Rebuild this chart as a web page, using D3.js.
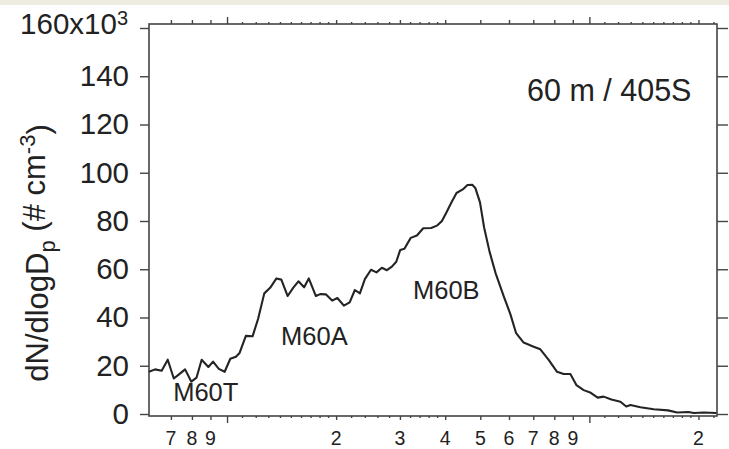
<!DOCTYPE html>
<html>
<head>
<meta charset="utf-8">
<script src="https://cdn.jsdelivr.net/npm/d3@7"></script>
<style>
  body { margin: 0; background: #fff; }
  svg { display: block; }
  text { font-family: "Liberation Sans", Arial, Helvetica, sans-serif; fill: #222; }
</style>
</head>
<body>
<svg id="chart" width="729" height="449"></svg>
<script>
// Particle number size distribution, 60 m / 405S
const diameter = [6.09,6.33,6.60,6.86,7.13,7.34,7.66,7.97,8.24,8.51,
  8.88,9.15,9.49,9.85,10.21,10.58,10.83,11.27,11.76,12.18,
  12.67,13.15,13.69,14.12,14.70,15.22,15.74,16.32,16.81,17.59,
  18.07,18.73,19.50,20.16,21.01,21.80,22.53,23.26,24.01,24.96,
  25.85,26.75,27.62,28.51,29.31,30.06,30.87,32.13,33.42,34.79,
  36.61,38.08,39.18,40.21,41.64,42.98,44.72,46.07,47.51,48.43,
  49.90,51.22,53.02,55.12,58.00,60.52,62.78,65.84,70.18,73.22,
  77.20,81.42,84.92,88.61,92.07,96.45,100.9,105.4,109.5,115.0,
  121.8,126.4,129.8,138.3,150.5,164.8,174.7,187.7,194.2,206.9,224.3];
// dN/dlogDp in units of 10^3 cm^-3
const concentration = [17.5,18.5,17.9,22.5,14.7,16.2,18.5,13.4,15.1,22.5,
  19.5,21.7,18.7,17.5,22.9,23.7,25.3,32.4,32.2,39.4,
  50.0,52.3,56.2,55.7,48.9,52.3,55.0,52.5,56.2,48.9,
  49.7,49.6,47.0,48.1,44.9,46.3,51.4,50.0,55.9,59.8,
  58.7,60.6,59.6,61.1,63.1,68.0,68.5,73.0,74.0,77.0,
  77.1,78.2,80.0,83.2,87.8,91.6,93.1,94.9,95.0,93.7,
  87.7,77.3,67.3,58.3,48.9,41.4,33.5,29.6,27.9,26.8,
  22.4,17.5,16.6,16.6,12.0,9.9,8.8,6.8,7.2,6.0,
  5.1,3.1,3.7,2.8,2.0,1.5,0.6,0.8,0.4,0.6,0.4];

// Log axis ticks
const labeledTicks = [7, 8, 9, 20, 30, 40, 50, 60, 70, 80, 90, 200];
const labeledTickText = ["7", "8", "9", "2", "3", "4", "5", "6", "7", "8", "9", "2"];
const decadeTicks = [10, 100];
const minorTicks = [11, 12, 13, 14, 15, 16, 17, 18, 19, 22, 24, 26, 28, 32, 34, 36, 38,
  110, 120, 130, 140, 150, 160, 170, 180, 190, 220];

const yTicks = [0, 20, 40, 60, 80, 100, 120, 140, 160];
const yTickText = ["0", "20", "40", "60", "80", "100", "120", "140", "160x10"];

const modeLabels = ["M60T", "M60A", "M60B"];
const modeLabelAt = [[7.1, 5.5], [14.1, 28.5], [32.6, 47.7]];
const panelTitle = "60 m / 405S";

const svg = d3.select("#chart");
const W = 729, H = 449;
const left = 149, right = 717, frameTop = 24, frameBottom = 416;

// Paper-coloured strip along the top edge
svg.append("rect").attr("x", 0).attr("y", 0).attr("width", W).attr("height", 5).attr("fill", "#eeebe0");

const x = d3.scaleLog().domain([6.09, 225]).range([left, right]);
const y = d3.scaleLinear().domain([0, 160]).range([414, 28]);

const axisColor = "#444";

function tickAxis(axisFn, values, size, pos, horizontal) {
  const g = svg.append("g")
    .attr("transform", horizontal ? `translate(0,${pos})` : `translate(${pos},0)`)
    .call(axisFn.tickValues(values).tickSize(size).tickFormat(""));
  g.select(".domain").remove();
  g.selectAll(".tick line").attr("stroke", axisColor).attr("stroke-width", 1.4);
  return g;
}

// Bottom and top log axes
tickAxis(d3.axisBottom(x), decadeTicks, 7, frameBottom, true);
tickAxis(d3.axisBottom(x), labeledTicks, 4, frameBottom, true);
tickAxis(d3.axisBottom(x), minorTicks, 2, frameBottom, true);
tickAxis(d3.axisTop(x), decadeTicks, 7, frameTop, true);
tickAxis(d3.axisTop(x), labeledTicks, 4, frameTop, true);
tickAxis(d3.axisTop(x), minorTicks, 2, frameTop, true);

// Bottom tick labels
svg.append("g").selectAll("text").data(labeledTicks).join("text")
  .attr("x", d => x(d)).attr("y", 445)
  .attr("text-anchor", "middle").attr("font-size", 19.5)
  .text((d, i) => labeledTickText[i]);

// Left and right linear axes
const yl = svg.append("g").attr("transform", `translate(${left},0)`)
  .call(d3.axisLeft(y).tickValues(yTicks).tickSize(9).tickPadding(11)
    .tickFormat((d, i) => yTickText[i]));
yl.select(".domain").remove();
yl.selectAll(".tick line").attr("stroke", axisColor).attr("stroke-width", 1.4);
yl.selectAll(".tick text").attr("font-size", 29.5).attr("font-family", null).attr("fill", "#222");
const topLabel = yl.selectAll(".tick text").filter(d => d === 160);
topLabel.attr("dy", "0.18em").attr("x", -21);
topLabel.append("tspan").attr("dy", "-0.45em").attr("font-size", 20).text("3");

tickAxis(d3.axisRight(y), yTicks, 11, right, false);

// Frame
svg.append("rect")
  .attr("x", left).attr("y", frameTop)
  .attr("width", right - left).attr("height", frameBottom - frameTop)
  .attr("fill", "none").attr("stroke", axisColor).attr("stroke-width", 1.6);

// Size distribution curve
const line = d3.line().x((d, i) => x(diameter[i])).y(d => y(d));
svg.append("path").datum(concentration)
  .attr("d", line).attr("fill", "none")
  .attr("stroke", "#242424").attr("stroke-width", 2.1).attr("stroke-linejoin", "round");

// Mode labels
svg.append("g").selectAll("text").data(modeLabels).join("text")
  .attr("x", (d, i) => x(modeLabelAt[i][0]))
  .attr("y", (d, i) => y(modeLabelAt[i][1]))
  .attr("font-size", 25.5)
  .text(d => d);

// Panel title
svg.append("text").attr("x", 527).attr("y", 101).attr("font-size", 30.5).text(panelTitle);

// Y axis title
const yt = svg.append("text")
  .attr("transform", "translate(48,253) rotate(-90)")
  .attr("text-anchor", "middle").attr("font-size", 31);
yt.append("tspan").text("dN/dlogD");
yt.append("tspan").attr("dy", "0.3em").attr("font-size", 22).text("p");
yt.append("tspan").attr("dy", "-0.3em").text(" (# cm");
yt.append("tspan").attr("dy", "-0.45em").attr("font-size", 22).text("-3");
yt.append("tspan").attr("dy", "0.45em").text(")");
</script>
</body>
</html>
